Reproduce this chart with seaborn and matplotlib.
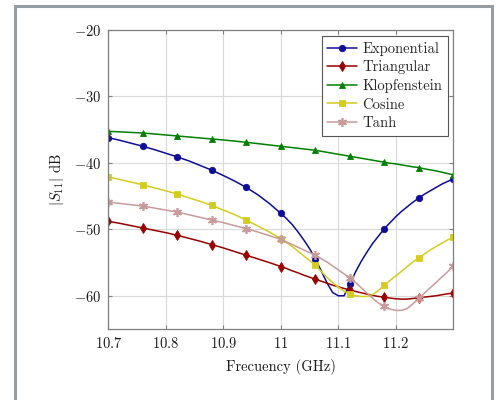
import numpy as np
import matplotlib
matplotlib.use("Agg")
import matplotlib.pyplot as plt
import seaborn as sns
from matplotlib.patches import Rectangle

# ---- data ----
freq = [10.70, 10.72, 10.74, 10.76, 10.78, 10.80, 10.82, 10.84, 10.86, 10.88,
        10.90, 10.92, 10.94, 10.96, 10.98, 11.00,
        11.01, 11.02, 11.03, 11.04, 11.05, 11.06, 11.07, 11.08, 11.09, 11.10,
        11.11, 11.12, 11.13, 11.14, 11.15, 11.16, 11.17, 11.18, 11.19, 11.20,
        11.21, 11.22, 11.23, 11.24, 11.25, 11.26, 11.27, 11.28, 11.29, 11.30]
mark_freq = [10.70, 10.76, 10.82, 10.88, 10.94, 11.00, 11.06, 11.12, 11.18, 11.24, 11.30]

exponential = [-36.2, -36.6, -37.05, -37.5, -38.0, -38.55, -39.1, -39.7, -40.4, -41.1,
               -41.9, -42.75, -43.7, -44.8, -46.1, -47.6,
               -48.4, -49.3, -50.4, -51.6, -52.9, -54.4, -56.2, -58.0, -59.5, -60.0,
               -60.0, -58.3, -56.4, -54.8, -53.4, -52.1, -51.0, -49.9, -49.0, -48.1,
               -47.3, -46.6, -45.9, -45.3, -44.7, -44.2, -43.7, -43.2, -42.8, -42.4]
triangular = [-48.8, -49.1, -49.45, -49.8, -50.15, -50.5, -50.9, -51.35, -51.8, -52.3,
              -52.8, -53.35, -53.9, -54.45, -55.0, -55.6,
              -55.9, -56.25, -56.55, -56.9, -57.2, -57.5, -57.8, -58.1, -58.4, -58.65,
              -58.9, -59.1, -59.35, -59.55, -59.75, -59.95, -60.1, -60.2, -60.35, -60.45,
              -60.5, -60.5, -60.4, -60.3, -60.2, -60.1, -60.0, -59.85, -59.7, -59.6]
klopfenstein = [-35.25, -35.33, -35.42, -35.5, -35.65, -35.8, -35.95, -36.1, -36.25, -36.4,
                -36.55, -36.72, -36.9, -37.1, -37.3, -37.5,
                -37.6, -37.7, -37.8, -37.9, -38.0, -38.1, -38.25, -38.4, -38.55, -38.7,
                -38.85, -39.0, -39.15, -39.3, -39.45, -39.6, -39.75, -39.9, -40.05, -40.15,
                -40.3, -40.45, -40.6, -40.7, -40.9, -41.05, -41.2, -41.4, -41.6, -41.8]
cosine = [-42.1, -42.5, -42.9, -43.3, -43.75, -44.2, -44.7, -45.25, -45.8, -46.4,
          -47.1, -47.8, -48.6, -49.5, -50.4, -51.4,
          -52.0, -52.6, -53.3, -54.0, -54.7, -55.4, -56.3, -57.2, -58.0, -58.7,
          -59.3, -59.7, -60.0, -60.1, -60.1, -59.8, -59.2, -58.4, -57.7, -57.0,
          -56.3, -55.6, -54.9, -54.3, -53.7, -53.1, -52.6, -52.1, -51.6, -51.2]
tanh = [-45.9, -46.1, -46.3, -46.5, -46.8, -47.1, -47.4, -47.8, -48.2, -48.6,
        -49.0, -49.45, -49.9, -50.4, -50.95, -51.5,
        -51.9, -52.3, -52.7, -53.1, -53.5, -53.9, -54.4, -54.9, -55.5, -56.1,
        -56.7, -57.3, -58.0, -58.8, -59.6, -60.4, -61.1, -61.6, -62.0, -62.2,
        -62.2, -61.9, -61.2, -60.4, -59.6, -58.8, -58.0, -57.2, -56.4, -55.5]

names = ["Exponential", "Triangular", "Klopfenstein", "Cosine", "Tanh"]
series = [exponential, triangular, klopfenstein, cosine, tanh]
colors = ["#0d0d99", "#990000", "#008000", "#d4cc1e", "#c99a9a"]
markers = ["o", "d", "^", "s", (6, 2, 0)]
msizes = [4.6, 4.6, 4.8, 4.4, 6.5]

xticks = [10.7, 10.8, 10.9, 11.0, 11.1, 11.2]
xticklabels = ["$10.7$", "$10.8$", "$10.9$", "$11$", "$11.1$", "$11.2$"]
yticks = [-60, -50, -40, -30, -20]
yticklabels = ["$-60$", "$-50$", "$-40$", "$-30$", "$-20$"]

# ---- style ----
sns.set_theme(style="whitegrid")
plt.rcParams["font.family"] = ["cmr10", "DejaVu Serif"]
plt.rcParams["mathtext.fontset"] = "cm"
plt.rcParams["axes.formatter.use_mathtext"] = True

fig = plt.figure(figsize=(4.97, 4.00), dpi=100)
fig.patch.set_facecolor("white")
ax = fig.add_axes([0.218, 0.1775, 0.694, 0.7475])
ax.set_facecolor("white")

x = np.array(freq)
mask = np.isin(np.round(x, 2), np.round(mark_freq, 2))

for name, vals, c, m, ms in zip(names, series, colors, markers, msizes):
    kw = dict(marker=m, markersize=ms, markevery=list(mask),
              markerfacecolor=c, markeredgecolor=c,
              markeredgewidth=1.2 if m == (6, 2, 0) else 0.6)
    sns.lineplot(x=x, y=vals, ax=ax, color=c, linewidth=1.1, label=name,
                 sort=False, estimator=None, **kw)

ax.set_xlim(10.7, 11.3)
ax.set_ylim(-65, -20)
ax.set_xticks(xticks)
ax.set_xticklabels(xticklabels)
ax.set_yticks(yticks)
ax.set_yticklabels(yticklabels)
ax.grid(True, color="#d9d9d9", linewidth=0.8)
for s in ax.spines.values():
    s.set_color("#7f7f7f")
    s.set_linewidth(0.9)
ax.tick_params(axis="both", which="both", direction="in", length=3,
               color="#7f7f7f", width=0.8, labelsize=10.5, colors="#1a1a1a",
               top=True, right=True, bottom=True, left=True, pad=5)
ax.tick_params(axis="both", labelcolor="#1a1a1a")

ax.set_xlabel("Frecuency (GHz)", fontsize=10.5, color="#1a1a1a", labelpad=6)
ax.set_ylabel("$|S_{11}|$ dB", fontsize=10.5, color="#1a1a1a", labelpad=6)

leg = ax.legend(loc="upper right", bbox_to_anchor=(0.985, 0.98), fontsize=10.5,
                frameon=True, fancybox=False, framealpha=1.0, edgecolor="#555555",
                borderpad=0.4, labelspacing=0.32, handlelength=2.0,
                handletextpad=0.4, borderaxespad=0.0)
leg.get_frame().set_linewidth(0.8)

# outer gray frame
fig.add_artist(Rectangle((15 / 497, -0.1), (492 - 15) / 497, 1.1 - 6 / 400,
                         transform=fig.transFigure, fill=False,
                         edgecolor="#959da5", linewidth=2.2, clip_on=False))

fig.savefig("out.png", dpi=100, facecolor="white")
